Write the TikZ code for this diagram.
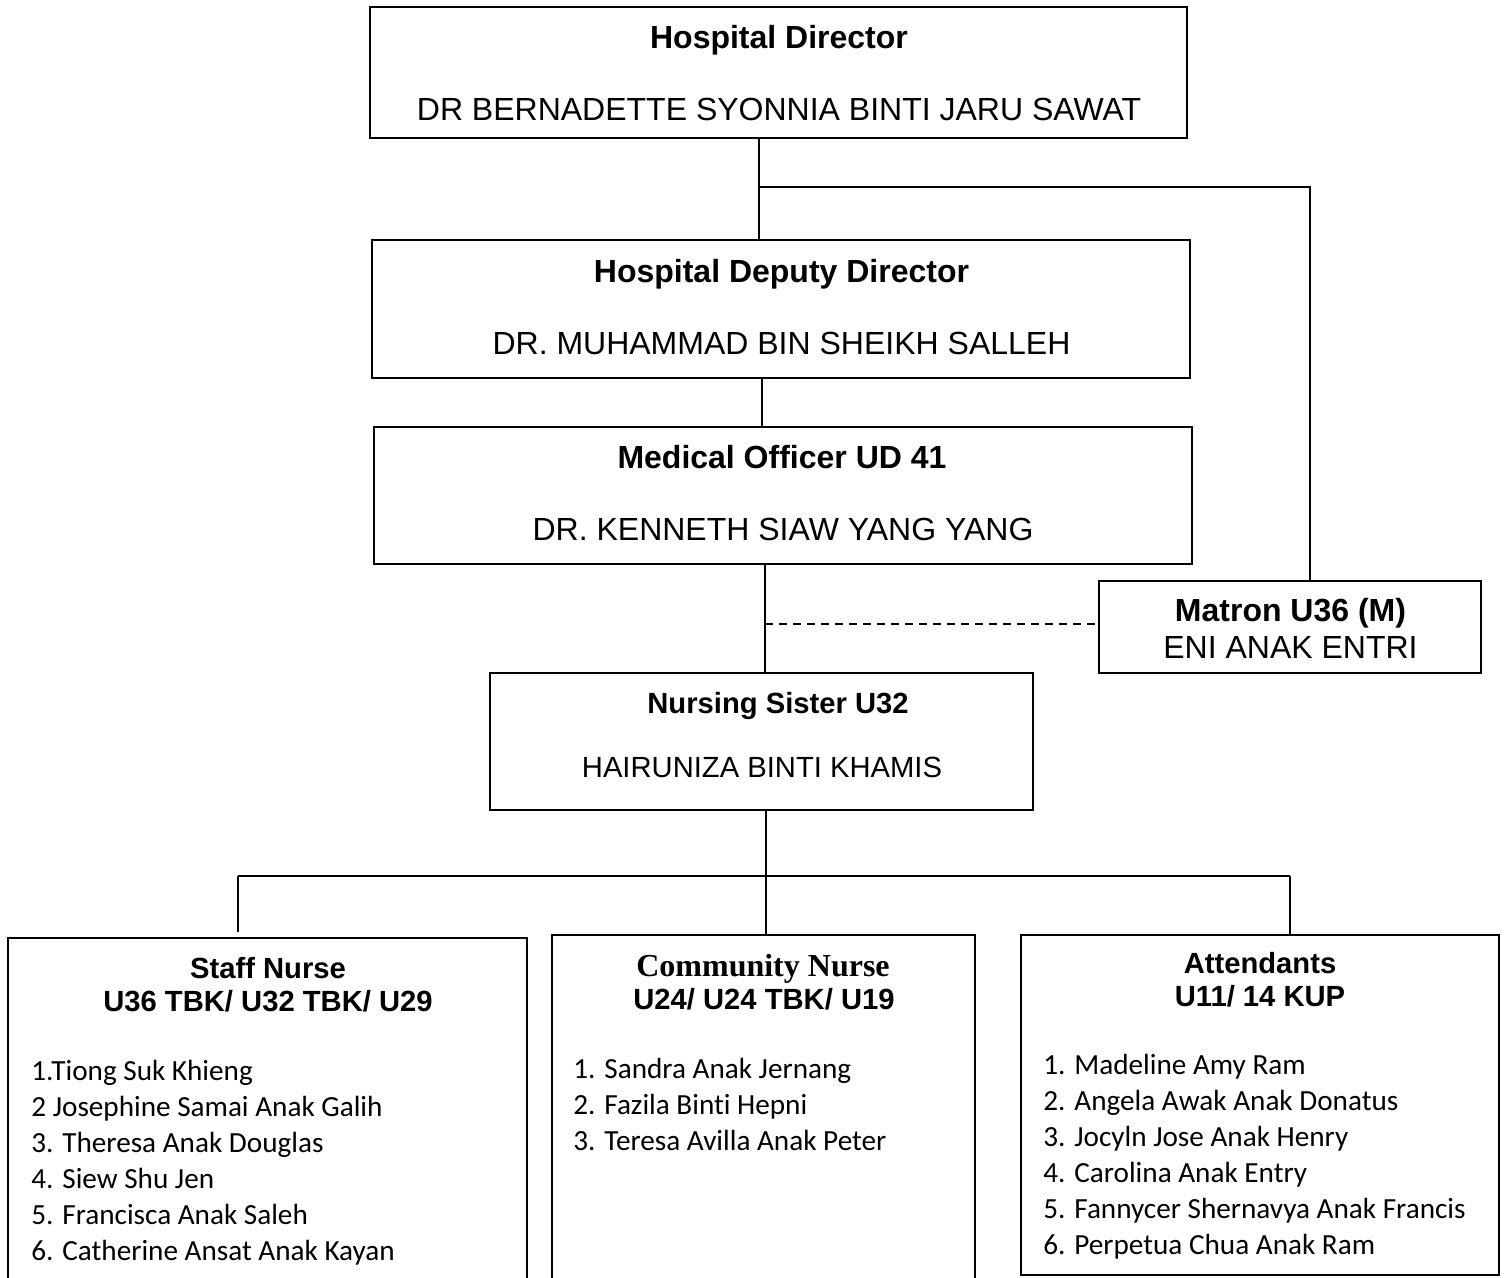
\documentclass[tikz,border=0pt]{standalone}
\usepackage{fontspec}
\setmainfont{Liberation Sans}
\newfontfamily\timesfam{Liberation Serif}
\newfontfamily\califam[Ligatures={NoCommon}]{Carlito}
\usetikzlibrary{fit}
\begin{document}
\begin{tikzpicture}[x=0.5pt,y=-0.5pt,
  box/.style={draw, line width=1pt, inner sep=0pt, rectangle},
  conn/.style={line width=0.8pt},
  ttl/.style={anchor=base, inner sep=0pt, font=\fontsize{16}{19}\selectfont\bfseries},
  nm/.style={anchor=base, inner sep=0pt, font=\fontsize{16}{19}\selectfont},
  sttl/.style={anchor=base, inner sep=0pt, font=\fontsize{14.6}{17}\selectfont\bfseries},
  snm/.style={anchor=base, inner sep=0pt, font=\fontsize{14.6}{17}\selectfont},
  lst/.style={anchor=base west, inner sep=0pt, font=\fontsize{14.6}{17}\califam}]
\fill[white] (0,0) rectangle (1509,1278);
\path[use as bounding box] (0,0) rectangle (1509,1278);

% boxes
\node[box, fit={(370,7) (1187,138)}] (hd) {};
\node[box, fit={(372,240) (1190,378)}] (dep) {};
\node[box, fit={(374,427) (1192,564)}] (mo) {};
\node[box, fit={(1099,581) (1481,673)}] (mat) {};
\node[box, fit={(490,673) (1033,810)}] (ns) {};
\node[box, fit={(8,938) (527,1300)}] (sn) {};
\node[box, fit={(552,935) (975,1300)}] (cn) {};
\node[box, fit={(1021,935) (1499,1275)}] (att) {};

% texts
\node[ttl] (hdt) at (779,48.5) {Hospital Director};
\node[nm] (hdn) at (779,121) {DR BERNADETTE SYONNIA BINTI JARU SAWAT};
\node[ttl] (dept) at (781.5,282.5) {Hospital Deputy Director};
\node[nm] (depn) at (781.5,354.5) {DR. MUHAMMAD BIN SHEIKH SALLEH};
\node[ttl] (mot) at (782,468.5) {Medical Officer UD 41};
\node[nm] (mon) at (783,540.5) {DR. KENNETH SIAW YANG YANG};
\node[ttl] (matt) at (1290.5,621.5) {Matron U36 (M)};
\node[nm] (matn) at (1290.5,658.5) {ENI ANAK ENTRI};
\node[sttl] (nst) at (778,713.5) {Nursing Sister U32};
\node[snm] (nsn) at (762,777.5) {HAIRUNIZA BINTI KHAMIS};

\node[sttl] (snt1) at (268,978.5) {Staff Nurse};
\node[sttl] (snt2) at (268,1011.5) {U36 TBK/ U32 TBK/ U29};
\node[anchor=base, inner sep=0pt, font=\fontsize{16}{19}\timesfam\bfseries] (cnt1) at (763,976.5) {Community Nurse};
\node[sttl] (cnt2) at (764,1009.5) {U24/ U24 TBK/ U19};
\node[sttl] (att1) at (1260,973.5) {Attendants};
\node[sttl] (att2) at (1260,1006.5) {U11/ 14 KUP};

\node[lst] (s1) at (31,1080) {1.Tiong Suk Khieng};
\node[lst] (s2) at (31,1116) {2 Josephine Samai Anak Galih};
\node[lst] (s3) at (31,1152) {3. Theresa Anak Douglas};
\node[lst] (s4) at (31,1188) {4. Siew Shu Jen};
\node[lst] (s5) at (31,1224) {5. Francisca Anak Saleh};
\node[lst] (s6) at (31,1260) {6. Catherine Ansat Anak Kayan};

\node[lst] (c1) at (573,1078.5) {1. Sandra Anak Jernang};
\node[lst] (c2) at (573,1114.5) {2. Fazila Binti Hepni};
\node[lst] (c3) at (573,1150.5) {3. Teresa Avilla Anak Peter};

\node[lst] (a1) at (1043,1074.5) {1. Madeline Amy Ram};
\node[lst] (a2) at (1043,1110.5) {2. Angela Awak Anak Donatus};
\node[lst] (a3) at (1043,1146.5) {3. Jocyln Jose Anak Henry};
\node[lst] (a4) at (1043,1182.5) {4. Carolina Anak Entry};
\node[lst] (a5) at (1043,1218.5) {5. Fannycer Shernavya Anak Francis};
\node[lst] (a6) at (1043,1254.5) {6. Perpetua Chua Anak Ram};

% connectors
\coordinate (j1) at (759,187);
\coordinate (j2) at (1310,187);
\draw[conn] (hd.south -| j1) -- (dep.north -| j1);
\draw[conn] (j1) -- (j2) -- (j2 |- mat.north);
\coordinate (k1) at (762,400);
\draw[conn] (dep.south -| k1) -- (mo.north -| k1);
\coordinate (m1) at (765,624);
\draw[conn] (mo.south -| m1) -- (ns.north -| m1);
\draw[conn, dash pattern=on 4pt off 3pt] (m1) -- (mat.west |- m1);
\coordinate (n1) at (766,876);
\coordinate (nl) at (238,876);
\coordinate (nr) at (1290,876);
\coordinate (nle) at (238,932);
\draw[conn] (ns.south -| n1) -- (n1);
\draw[conn] (nl) -- (nr);
\draw[conn] (nl) -- (nle);
\draw[conn] (n1) -- (n1 |- cn.north);
\draw[conn] (nr) -- (nr |- att.north);
\end{tikzpicture}
\end{document}
